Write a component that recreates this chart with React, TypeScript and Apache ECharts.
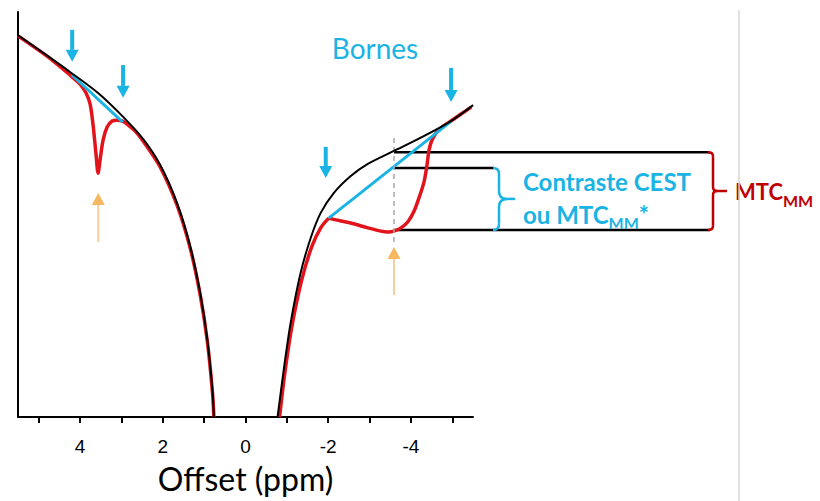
import React, { useEffect, useRef } from "react";
import * as echarts from "echarts";

// ---------- data ----------
const xTickValues = [-5, -4, -3, -2, -1, 0, 1, 2, 3, 4, 5];
const xLabelValues = [-4, -2, 0, 2, 4];

// Z-spectrum without exchange (black), positive offsets
const blackLeft = [
  [5.503, 0.943], [4.776, 0.891], [4.242, 0.852], [3.564, 0.8], [2.958, 0.741],
  [2.473, 0.686], [2.061, 0.622], [1.648, 0.526], [1.333, 0.42], [1.091, 0.304],
  [0.921, 0.19], [0.8, 0.067], [0.764, 0],
];
// negative offsets
const blackRight = [
  [-0.776, 0], [-0.921, 0.114], [-1.091, 0.232], [-1.333, 0.356], [-1.576, 0.442],
  [-1.818, 0.504], [-2.133, 0.553], [-2.545, 0.595], [-2.958, 0.625], [-3.588, 0.657],
  [-4.17, 0.686], [-4.897, 0.726], [-5.503, 0.77],
];
// measured Z-spectrum (red)
const redLeft = [
  [5.503, 0.941], [4.776, 0.889], [4.194, 0.84], [4.0, 0.822], [3.855, 0.8],
  [3.758, 0.773], [3.685, 0.721], [3.612, 0.647], [3.564, 0.602], [3.515, 0.635],
  [3.442, 0.684], [3.345, 0.716], [3.224, 0.731], [3.103, 0.733], [2.982, 0.731],
  [2.836, 0.721], [2.667, 0.706], [2.473, 0.681], [2.061, 0.617], [1.648, 0.521],
  [1.333, 0.415], [1.091, 0.299], [0.921, 0.185], [0.8, 0.062], [0.764, 0],
];
const redRightInner = [
  [-0.824, 0], [-0.945, 0.104], [-1.115, 0.22], [-1.358, 0.338], [-1.6, 0.42],
  [-1.818, 0.467], [-2.012, 0.491],
];
const redRightOuter = [
  [-2.012, 0.491], [-2.303, 0.484], [-2.545, 0.479], [-2.958, 0.467], [-3.273, 0.459],
  [-3.442, 0.457], [-3.588, 0.459], [-3.758, 0.467], [-3.927, 0.482], [-4.073, 0.508],
  [-4.194, 0.541], [-4.315, 0.58], [-4.388, 0.622], [-4.436, 0.659], [-4.509, 0.684],
  [-4.606, 0.701], [-4.752, 0.716], [-4.897, 0.726], [-5.212, 0.748], [-5.455, 0.765],
];
// interpolation baselines ("Bornes")
const cyanLeft = [[4.2, 0.845], [2.97, 0.728]];
const cyanRight = [[-2.012, 0.491], [-4.97, 0.73]];
// dashed marker at the analysed offset
const markerOffset = -3.59;
const markerLine = [[markerOffset, 0.689], [markerOffset, 0.43]];
// levels at the analysed offset: reference, baseline, measured
const levelRef = 0.654;
const levelBase = 0.615;
const levelDip = 0.462;
// arrows [ppm, from, to]
const cyanArrows = [
  [4.19, 0.956, 0.877],
  [2.96, 0.869, 0.788],
  [-1.94, 0.667, 0.59],
  [-4.97, 0.862, 0.778],
];
const orangeArrows = [
  [3.56, 0.432, 0.553],
  [-3.59, 0.301, 0.42],
];

const CYAN = "#1ab4e4";
const RED = "#e3131b";
const DARKRED = "#c00000";

export default function App() {
  const ref = useRef<HTMLDivElement>(null);
  useEffect(() => {
    const chart = echarts.init(ref.current!, null, { renderer: "svg" });
    const lineS = (data: number[][], color: string, width: number, z: number, extra: any = {}) => ({
      type: "line",
      data,
      smooth: 0.3,
      showSymbol: false,
      symbol: "none",
      silent: true,
      z,
      lineStyle: { color, width, ...extra },
    });
    chart.setOption({
      animation: false,
      grid: { left: 18, right: 347, top: 12, bottom: 84 },
      xAxis: {
        type: "value",
        min: -5.5,
        max: 5.5,
        inverse: true,
        axisLine: { onZero: false, lineStyle: { color: "#000", width: 2 } },
        axisTick: {
          show: true,
          inside: false,
          customValues: xTickValues,
          length: 6,
          lineStyle: { color: "#000", width: 2 },
        },
        axisLabel: {
          customValues: xLabelValues,
          margin: 20,
          fontSize: 19,
          color: "#000",
          fontFamily: "Liberation Sans",
        },
        splitLine: { show: false },
        name: "Offset (ppm)",
        nameLocation: "middle",
        nameGap: 45,
        nameTextStyle: { fontSize: 32, fontFamily: "Lato", color: "#000" },
      },
      yAxis: {
        type: "value",
        min: 0,
        max: 1,
        axisLine: { show: true, onZero: false, lineStyle: { color: "#000", width: 2 } },
        axisTick: { show: false },
        axisLabel: { show: false },
        splitLine: { show: false },
      },
      series: [
        lineS(redLeft, RED, 3.5, 1),
        lineS(redRightInner, RED, 3.5, 1),
        lineS(redRightOuter, RED, 3.5, 1),
        { ...lineS(cyanLeft, CYAN, 3, 2), smooth: false },
        { ...lineS(cyanRight, CYAN, 3, 2), smooth: false },
        lineS(blackLeft, "#000", 2, 3),
        lineS(blackRight, "#000", 2, 3),
        { ...lineS(markerLine, "#a8a8a8", 1.5, 2, { type: [5, 4] }), smooth: false },
      ],
    });

    const px = (x: number, y: number) =>
      chart.convertToPixel({ xAxisIndex: 0, yAxisIndex: 0 }, [x, y]) as number[];

    const g: any[] = [];
    const arrow = (a: number[], head: string, shaft: string, sw: number, hw: number, hl: number) => {
      const p0 = px(a[0], a[1]);
      const p1 = px(a[0], a[2]);
      const dir = p1[1] > p0[1] ? 1 : -1;
      const baseY = p1[1] - dir * hl;
      g.push({
        type: "line",
        silent: true,
        shape: { x1: p0[0], y1: p0[1], x2: p0[0], y2: baseY },
        style: { stroke: shaft, lineWidth: sw },
      });
      g.push({
        type: "polygon",
        silent: true,
        shape: { points: [[p1[0] - hw / 2, baseY], [p1[0] + hw / 2, baseY], [p1[0], p1[1]]] },
        style: { fill: head },
      });
    };
    cyanArrows.forEach((a) => arrow(a, CYAN, CYAN, 4, 13, 12));
    orangeArrows.forEach((a) => arrow(a, "#f7b660", "#f6cf9e", 2, 13, 12));

    const hline = (level: number, xEnd: number) => {
      const p = px(markerOffset, level);
      g.push({
        type: "line",
        silent: true,
        shape: { x1: p[0], y1: p[1], x2: xEnd, y2: p[1] },
        style: { stroke: "#000", lineWidth: 2.5 },
      });
    };
    hline(levelRef, 710);
    hline(levelBase, 494);
    hline(levelDip, 710);

    const brace = (xL: number, xM: number, xR: number, yT: number, yB: number, rE: number, rM: number, color: string, lw: number) => {
      const yM = (yT + yB) / 2;
      const st = { stroke: color, lineWidth: lw, fill: "none" };
      const bz = (x1: number, y1: number, cx: number, cy: number, x2: number, y2: number) =>
        g.push({ type: "bezierCurve", silent: true, shape: { x1, y1, x2, y2, cpx1: cx, cpy1: cy }, style: st });
      const ln = (x1: number, y1: number, x2: number, y2: number) =>
        g.push({ type: "line", silent: true, shape: { x1, y1, x2, y2 }, style: st });
      bz(xL, yT, xM, yT, xM, yT + rE);
      ln(xM, yT + rE, xM, yM - rM);
      bz(xM, yM - rM, xM, yM, xM + rM, yM);
      ln(xM + rM, yM, xR, yM);
      bz(xM + rM, yM, xM, yM, xM, yM + rM);
      ln(xM, yM + rM, xM, yB - rE);
      bz(xM, yB - rE, xM, yB, xL, yB);
    };
    const yRef = px(markerOffset, levelRef)[1];
    const yBase = px(markerOffset, levelBase)[1];
    const yDip = px(markerOffset, levelDip)[1];
    brace(493, 499, 515, yBase, yDip, 6, 8, CYAN, 2.5);
    brace(708, 713, 727, yRef, yDip, 4, 4, DARKRED, 2.5);

    g.push({
      type: "text",
      silent: true,
      style: {
        text: "Bornes",
        x: 375,
        y: 48,
        align: "center",
        verticalAlign: "middle",
        fill: CYAN,
        fontSize: 28,
        fontFamily: "Lato",
      },
    });
    g.push({
      type: "text",
      silent: true,
      style: {
        text: "{a|Contraste CEST}\n{a|ou MTC}{s|MM}{a|*}",
        x: 523,
        y: (yBase + yDip) / 2 - 34,
        align: "left",
        verticalAlign: "top",
        rich: {
          a: { fontSize: 24, fontWeight: "bold", fontFamily: "Lato", fill: CYAN, color: CYAN, lineHeight: 33 },
          s: { fontSize: 16, fontWeight: "bold", fontFamily: "Lato", fill: CYAN, color: CYAN, lineHeight: 16, padding: [17, 0, 0, 0] },
        },
      },
    });
    g.push({
      type: "text",
      silent: true,
      style: {
        text: "{a|MTC}{s|MM}",
        x: 735,
        y: (yRef + yDip) / 2 - 17,
        align: "left",
        verticalAlign: "top",
        rich: {
          a: { fontSize: 22, fontWeight: "bold", fontFamily: "Lato", fill: DARKRED, color: DARKRED, lineHeight: 34 },
          s: { fontSize: 16, fontWeight: "bold", fontFamily: "Lato", fill: DARKRED, color: DARKRED, lineHeight: 16, padding: [18, 0, 0, 0] },
        },
      },
    });
    g.push({
      type: "line",
      silent: true,
      shape: { x1: 739, y1: 10, x2: 739, y2: 501 },
      style: { stroke: "#d6d6d6", lineWidth: 1.5 },
    });

    chart.setOption({ graphic: g });
    return () => chart.dispose();
  }, []);
  return (
    <div
      ref={ref}
      style={{ position: "fixed", left: 0, top: 0, width: 820, height: 501, background: "#fff" }}
    />
  );
}
